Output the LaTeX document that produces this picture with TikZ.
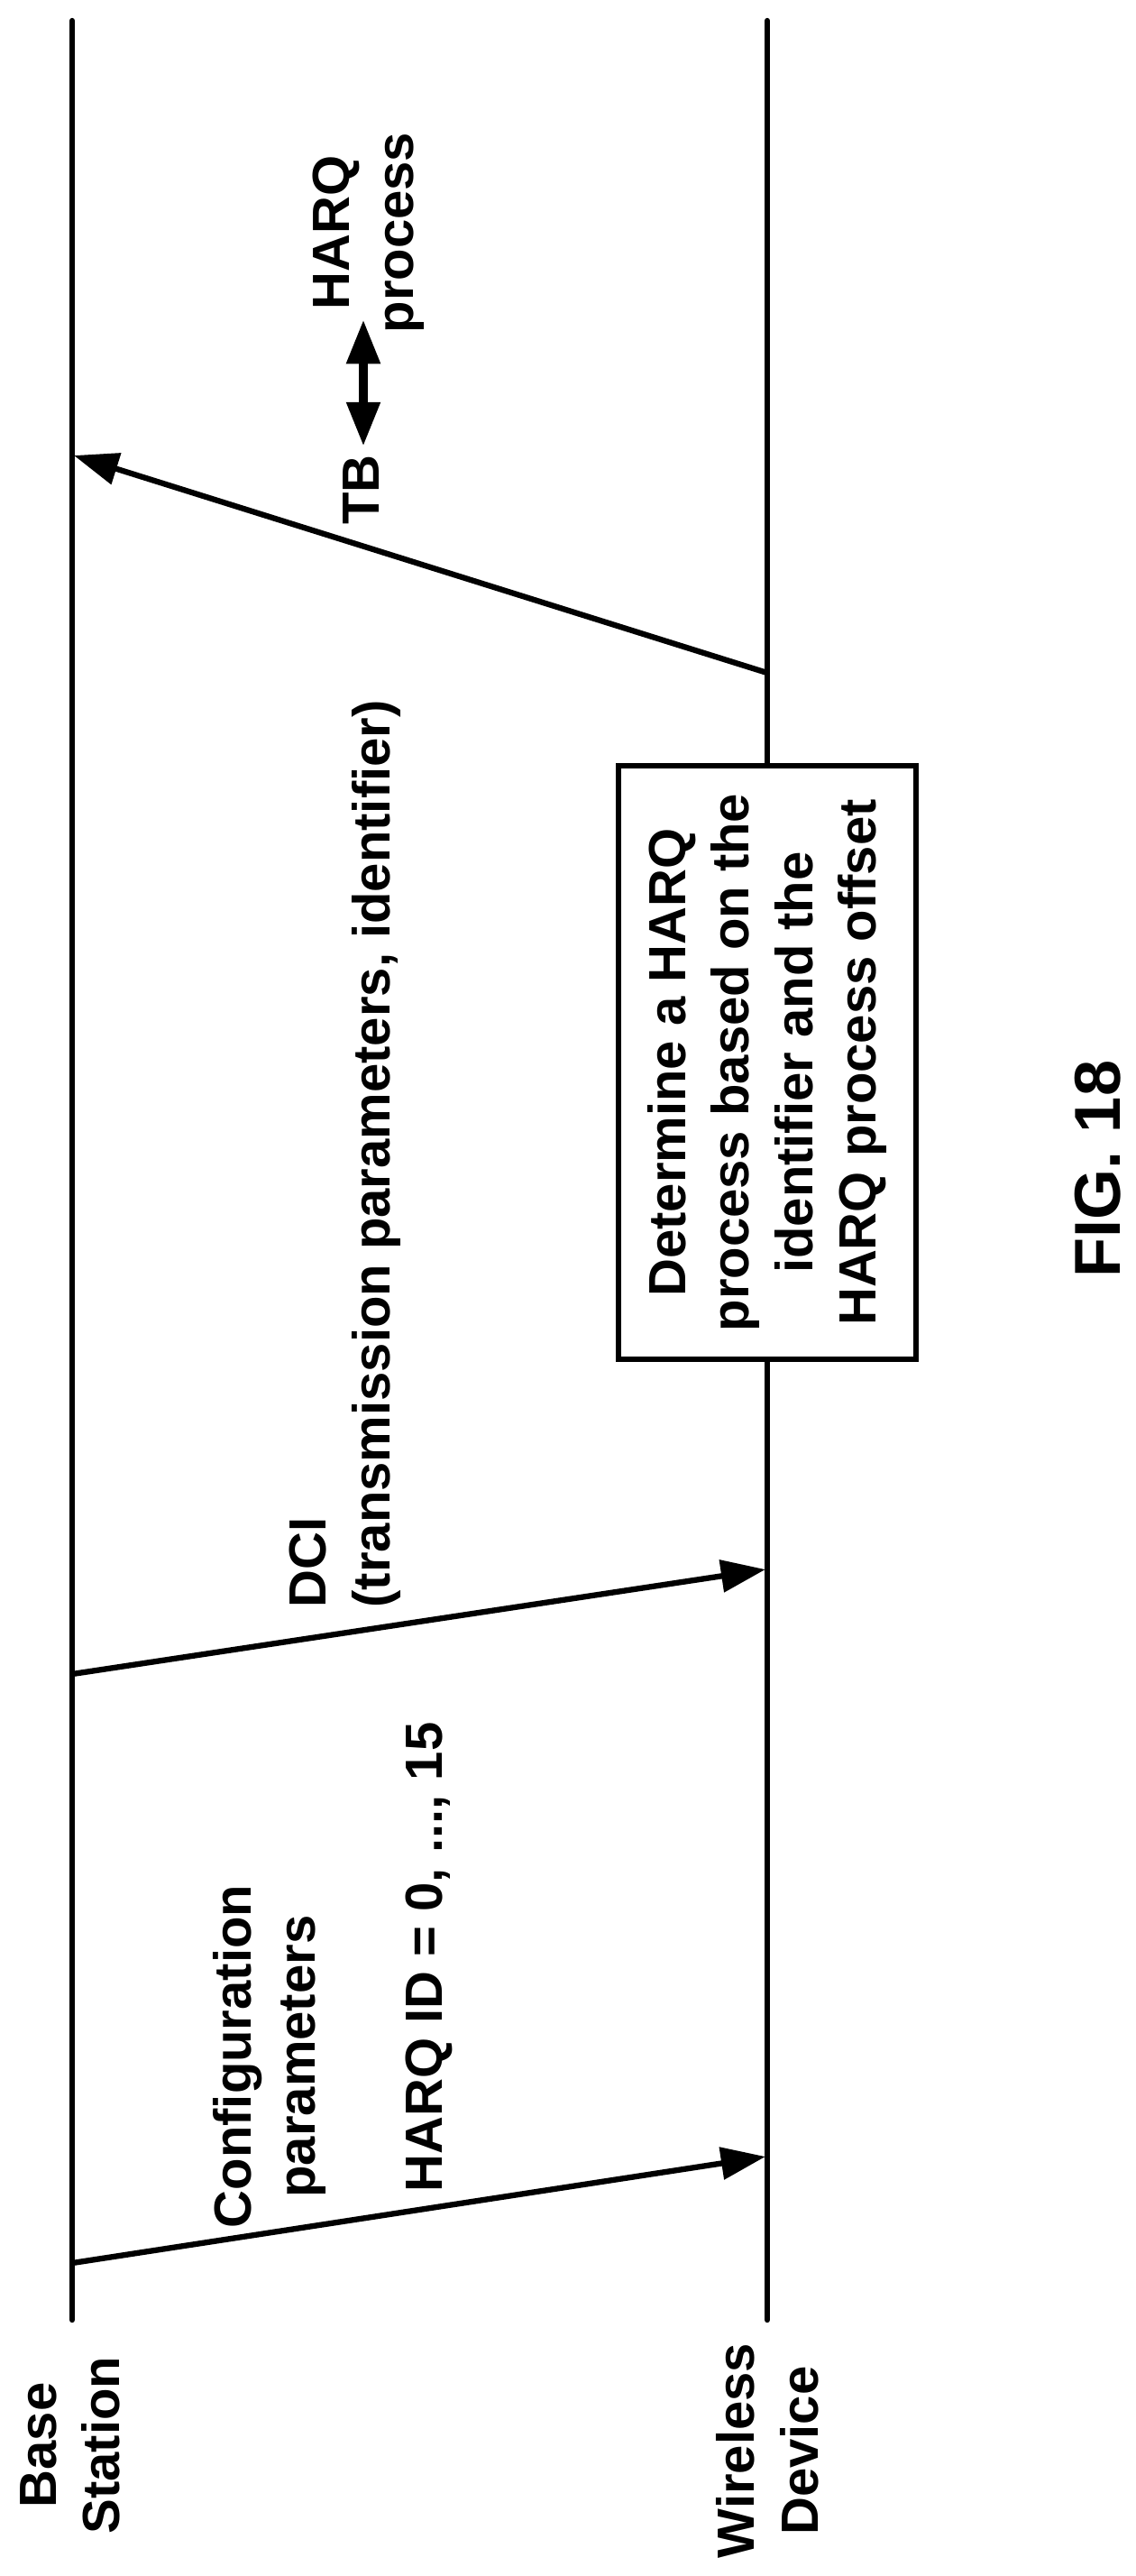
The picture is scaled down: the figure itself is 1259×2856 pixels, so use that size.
\documentclass[tikz,border=0pt]{standalone}
\usepackage{fontspec}
\setmainfont{Liberation Sans}
\usetikzlibrary{arrows.meta}
\begin{document}
\begin{tikzpicture}[x=0.01cm,y=-0.01cm,
  lbl/.style={rotate=90,font=\bfseries\fontsize{16.5}{20}\selectfont,inner sep=0pt},
  ln/.style={line width=1.8pt,line cap=round},
  msg/.style={line width=1.8pt,-{Triangle[length=14pt,width=10pt]}}]
\useasboundingbox (0,0) rectangle (1259,2856);
\coordinate (bt) at (80,23); \coordinate (bb) at (80,2572);
\coordinate (wt) at (851,23); \coordinate (wb) at (851,2572);
\draw[ln] (bt) -- (bb);
\draw[ln] (wt) -- (wb);
\node[lbl,align=center,anchor=base] (bs) at (133,2711) {Base\\Station};
\node[lbl,align=center,anchor=base] (wd) at (907,2717) {Wireless\\Device};
\coordinate (a1) at (80,2509); \coordinate (b1) at (849,2391);
\draw[msg] (a1) -- (b1);
\coordinate (a2) at (80,1856); \coordinate (b2) at (849,1740);
\draw[msg] (a2) -- (b2);
\coordinate (a3) at (851,746); \coordinate (b3) at (82,505);
\draw[msg] (a3) -- (b3);
\node[lbl,align=center,anchor=base] (cp) at (349,2280) {Configuration\\parameters};
\node[lbl,anchor=base west] (hid) at (490,2431) {HARQ ID = 0, ..., 15};
\node[lbl,align=left,anchor=base west] (dci) at (432,1783) {DCI\\(transmission parameters, identifier)};
\node[draw,line width=1.8pt,fill=white,rotate=90,minimum width=187pt,minimum height=94pt,inner sep=2pt,align=center,font=\bfseries\fontsize{16.5}{20}\selectfont] (box) at (851,1178) {Determine a HARQ\\process based on the\\identifier and the\\HARQ process offset};
\node[lbl,anchor=base] (tb) at (420,543) {TB};
\node[lbl,align=center,anchor=base] (hp) at (458,258) {HARQ\\process};
\coordinate (d1) at (403,495); \coordinate (d2) at (403,354);
\draw[line width=3pt,{Triangle[length=14pt,width=10pt]}-{Triangle[length=14pt,width=10pt]}] (d1) -- (d2);
\node[rotate=90,font=\bfseries\fontsize{20.5}{24}\selectfont,inner sep=0pt] (fig) at (1218,1296) {FIG. 18};
\end{tikzpicture}
\end{document}
